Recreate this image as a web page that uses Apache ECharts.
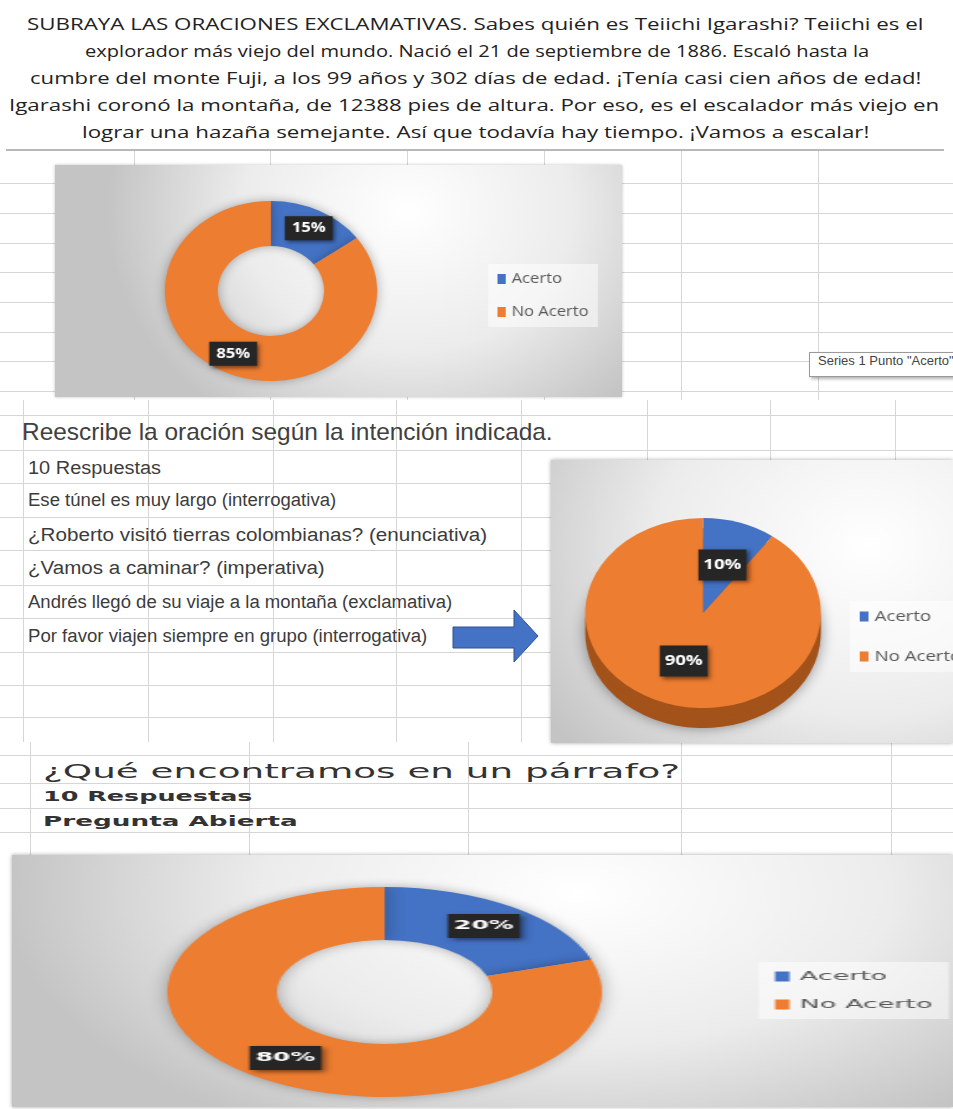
<!DOCTYPE html>
<html>
<head>
<meta charset="utf-8">
<title>Resultados</title>
<script src="https://cdn.jsdelivr.net/npm/echarts@6.0.0/dist/echarts.min.js"></script>
<style>
  html, body { margin: 0; padding: 0; }
  #page { position: relative; width: 953px; height: 1109px; overflow: hidden; background: #fff; }
  .box { position: absolute; overflow: hidden; }
  .chart { position: absolute; left: 0; top: 0; transform-origin: 0 0; }
  .ln { position: absolute; background: #d6d6d6; }
</style>
</head>
<body>
<div id="page">
  <div class="box" id="box1" style="left:55px;top:165px;width:567px;height:232px;box-shadow:0 0 3px rgba(0,0,0,.25)">
    <div class="chart" id="c1" style="width:481px;height:232px;transform:scale(1.18,1)"></div>
  </div>
  <div class="box" id="box2" style="left:551px;top:460px;width:402px;height:283px;box-shadow:0 0 4px rgba(0,0,0,.35)">
    <div class="chart" id="c2" style="width:340px;height:283px;transform:scale(1.24,1)"></div>
  </div>
  <div class="box" id="box3" style="left:12px;top:855px;width:941px;height:252px;box-shadow:0 0 4px rgba(0,0,0,.35)">
    <div class="chart" id="c3" style="width:455px;height:252px;transform:scale(2.07,1)"></div>
  </div>
</div>

<script>
// categorias y valores de cada grafico
const categories = ["Acerto", "No Acerto"];
const valuesQ1 = [15, 85]; // subraya las oraciones exclamativas
const valuesQ2 = [10, 90]; // reescribe la oracion
const valuesQ3 = [20, 80]; // que encontramos en un parrafo

// textos de la hoja
const paragraphLines = [
  "SUBRAYA LAS ORACIONES EXCLAMATIVAS. Sabes quién es Teiichi Igarashi? Teiichi es el",
  "explorador más viejo del mundo. Nació el 21 de septiembre de 1886. Escaló hasta la",
  "cumbre del monte Fuji, a los 99 años y 302 días de edad. ¡Tenía casi cien años de edad!",
  "Igarashi coronó la montaña, de 12388 pies de altura. Por eso, es el escalador más viejo en",
  "lograr una hazaña semejante. Así que todavía hay tiempo. ¡Vamos a escalar!",
];
const q2Title = "Reescribe la oración según la intención indicada.";
const q2Rows = [
  "10 Respuestas",
  "Ese túnel es muy largo (interrogativa)",
  "¿Roberto visitó tierras colombianas? (enunciativa)",
  "¿Vamos a caminar? (imperativa)",
  "Andrés llegó de su viaje a la montaña (exclamativa)",
  "Por favor viajen siempre en grupo (interrogativa)",
];
const q3Title = "¿Qué encontramos en un párrafo?";
const q3Rows = ["10 Respuestas", "Pregunta Abierta"];

const colorArr = ["#4472C4", "#ED7D31"];

const page = document.getElementById("page");

// lineas de la hoja de calculo
function hLine(y, x0, x1) {
  const d = document.createElement("div");
  d.className = "ln";
  d.style.cssText = `left:${x0}px;top:${y}px;width:${x1 - x0}px;height:1px`;
  page.insertBefore(d, page.firstChild);
}
function vLine(x, y0, y1) {
  const d = document.createElement("div");
  d.className = "ln";
  d.style.cssText = `left:${x}px;top:${y0}px;width:1px;height:${y1 - y0}px`;
  page.insertBefore(d, page.firstChild);
}
[183, 213, 243, 272, 302, 332, 361, 391].forEach((y) => hLine(y, 0, 953));
[134, 270, 407, 544, 681, 818].forEach((x) => vLine(x, 151, 400));
[415, 450, 483, 517, 550, 585, 618, 652, 685, 717].forEach((y) => hLine(y, 0, 953));
[23, 148, 273, 396, 521, 647, 770, 895].forEach((x) => vLine(x, 400, 742));
[755, 783, 808, 832].forEach((y) => hLine(y, 0, 953));
[30, 249, 468, 681, 891].forEach((x) => vLine(x, 742, 856));
// linea bajo el parrafo
const sep = document.createElement("div");
sep.style.cssText = "position:absolute;left:6px;top:149px;width:938px;height:2px;background:#b8b8b8";
page.appendChild(sep);

// texto ajustado al ancho de la captura
function placeText(txt, x0, x1, cy, font, color) {
  const d = document.createElement("div");
  d.textContent = txt;
  d.style.cssText = `position:absolute;left:${x0}px;top:0;white-space:nowrap;font:${font};color:${color};transform-origin:0 50%;line-height:1.25`;
  page.appendChild(d);
  const w = d.offsetWidth, h = d.offsetHeight;
  d.style.top = cy - h / 2 + "px";
  d.style.transform = `scaleX(${(x1 - x0) / w})`;
  return d;
}

const paraSpan = [[27, 924], [85, 869], [30, 921], [9, 939], [82, 869]];
paragraphLines.forEach((t, i) => {
  placeText(t, paraSpan[i][0], paraSpan[i][1], 23 + i * 27, "17px 'Open Sans'", "#222");
});

placeText(q2Title, 22, 553, 432, "24px 'Liberation Sans'", "#404040");
const q2Span = [161, 336, 487, 325, 452, 427];
const q2Y = [468, 500, 535, 568, 602, 636];
q2Rows.forEach((t, i) => {
  placeText(t, 28, q2Span[i], q2Y[i], "18px 'Liberation Sans'", "#3c3c3c");
});

placeText(q3Title, 43, 681, 772, "19px 'DejaVu Sans'", "#333");
placeText(q3Rows[0], 43, 252, 797, "bold 14px 'DejaVu Sans'", "#333");
placeText(q3Rows[1], 43, 298, 822, "bold 14px 'DejaVu Sans'", "#333");

// etiqueta emergente de Excel
const tip = document.createElement("div");
tip.textContent = 'Series 1 Punto "Acerto"';
tip.style.cssText =
  "position:absolute;left:809px;top:352px;height:23px;line-height:23px;padding:0 8px;white-space:nowrap;" +
  "font:13px 'Liberation Sans';color:#444;background:#fff;border:1px solid #9a9a9a;box-shadow:2px 2px 3px rgba(0,0,0,.3)";
page.appendChild(tip);

// flecha azul
const svgNS = "http://www.w3.org/2000/svg";
const svg = document.createElementNS(svgNS, "svg");
svg.setAttribute("width", "953");
svg.setAttribute("height", "1109");
svg.style.cssText = "position:absolute;left:0;top:0;pointer-events:none";
const arrow = document.createElementNS(svgNS, "polygon");
arrow.setAttribute("points", "453,627 514,627 514,610 538,636 514,662 514,648 453,648");
arrow.setAttribute("fill", "#4472C4");
arrow.setAttribute("stroke", "#2F528F");
svg.appendChild(arrow);
page.appendChild(svg);

// fondo degradado de los graficos
function bg(x, y) {
  return {
    type: "radial",
    x: x,
    y: y,
    r: 1.1,
    colorStops: [
      { offset: 0, color: "#ffffff" },
      { offset: 0.55, color: "#ececec" },
      { offset: 1, color: "#c4c4c4" },
    ],
  };
}

function pieData(values) {
  return categories.map((name, i) => ({ name: name, value: values[i] }));
}

function legendOf(left, top, fontSize, gap, font) {
  return {
    orient: "vertical",
    left: left,
    top: top,
    icon: "rect",
    itemWidth: 7,
    itemHeight: 10,
    itemGap: gap,
    padding: [8, 8],
    backgroundColor: "rgba(255,255,255,0.5)",
    data: categories.map((name, i) => ({ name: name, itemStyle: { color: colorArr[i] } })),
    textStyle: { fontSize: fontSize, color: "#595959", fontFamily: font },
  };
}

function labelOf(fontSize, padding, font) {
  return {
    show: true,
    position: "inside",
    formatter: "{d}%",
    color: "#fff",
    fontWeight: "bold",
    fontSize: fontSize,
    fontFamily: font,
    backgroundColor: "#262626",
    padding: padding,
    shadowBlur: 4,
    shadowColor: "rgba(0,0,0,0.5)",
    shadowOffsetX: 2,
    shadowOffsetY: 2,
  };
}

// grafico 1: dona
const chart1 = echarts.init(document.getElementById("c1"));
chart1.setOption({
  animation: false,
  backgroundColor: bg(0.62, 0.2),
  color: colorArr,
  legend: legendOf(367, 99, 14, 19, "Open Sans"),
  series: [
    {
      type: "pie",
      center: [183, 126],
      radius: [45, 90],
      data: pieData(valuesQ1),
      label: labelOf(14, [5, 6], "Open Sans"),
      labelLine: { show: false },
      itemStyle: { shadowBlur: 10, shadowColor: "rgba(0,0,0,0.3)" },
    },
  ],
});

// grafico 2: pastel con borde 3D
const chart2 = echarts.init(document.getElementById("c2"));
const sideColors = ["#2c4f8f", "#a3521a"];
chart2.setOption({
  animation: false,
  backgroundColor: bg(0.75, 0.3),
  color: colorArr,
  legend: legendOf(241, 141, 15, 25, "Open Sans"),
  series: [
    {
      type: "pie",
      z: 3,
      center: [122.6, 153],
      radius: 95,
      data: pieData(valuesQ2),
      label: labelOf(15, [8, 4], "Open Sans"),
      labelLine: { show: false },
    },
    {
      type: "pie",
      z: 2,
      silent: true,
      center: [122.6, 163],
      radius: 95,
      data: pieData(valuesQ2).map((d, i) => ({ ...d, itemStyle: { color: sideColors[i] } })),
      label: { show: false },
      labelLine: { show: false },
    },
    {
      type: "pie",
      z: 1,
      silent: true,
      center: [122.6, 173],
      radius: 95,
      data: pieData(valuesQ2).map((d, i) => ({ ...d, itemStyle: { color: sideColors[i] } })),
      label: { show: false },
      labelLine: { show: false },
      itemStyle: { shadowBlur: 12, shadowColor: "rgba(0,0,0,0.4)" },
    },
  ],
});

// grafico 3: dona ancha
const chart3 = echarts.init(document.getElementById("c3"));
chart3.setOption({
  animation: false,
  backgroundColor: bg(0.6, 0.15),
  color: colorArr,
  legend: legendOf(360.6, 107, 13, 15, "DejaVu Sans"),
  series: [
    {
      type: "pie",
      center: [180, 137],
      radius: [52, 105],
      data: pieData(valuesQ3),
      label: labelOf(12, [6, 3], "DejaVu Sans"),
      labelLine: { show: false },
      itemStyle: { shadowBlur: 10, shadowColor: "rgba(0,0,0,0.3)" },
    },
  ],
});
</script>
</body>
</html>
